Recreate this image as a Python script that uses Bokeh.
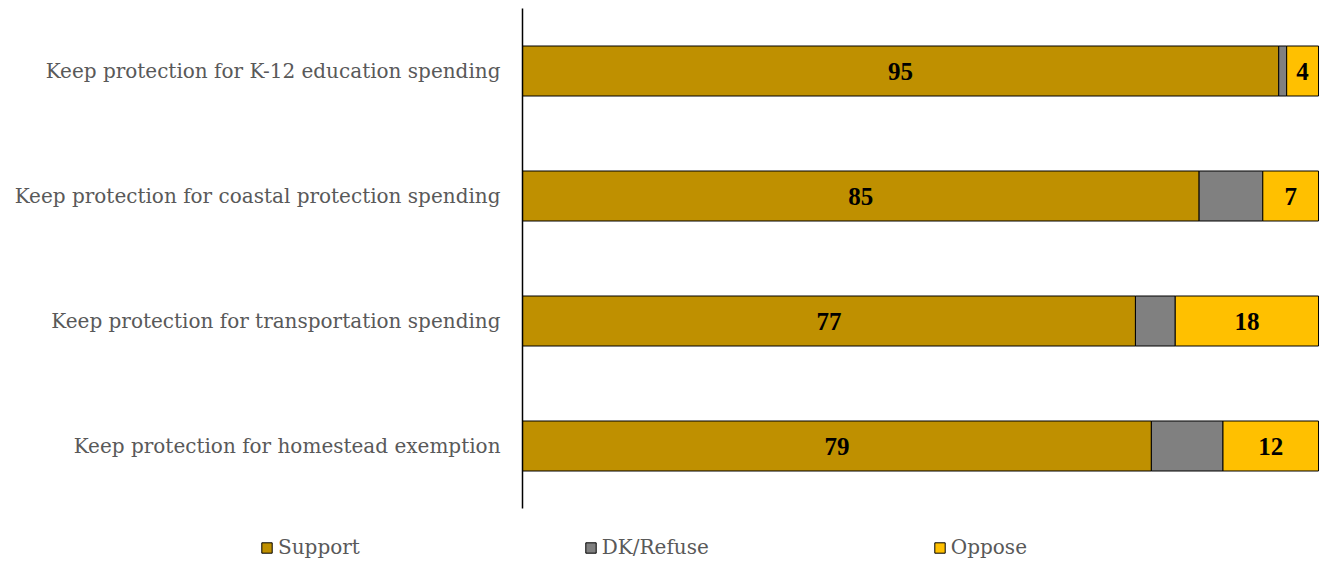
from bokeh.plotting import figure
from bokeh.models import (ColumnDataSource, Range1d, LabelSet, Legend,
                          LegendItem, FixedTicker)
from bokeh.embed import file_html
from bokeh.resources import INLINE

# ---- data (bottom to top) ----
categories = [
    "Keep protection for homestead exemption",
    "Keep protection for transportation spending",
    "Keep protection for coastal protection spending",
    "Keep protection for K-12 education spending",
]
support = [79, 77, 85, 95]
dk_refuse = [9, 5, 8, 1]
oppose = [12, 18, 7, 4]

series = ["Support", "DK/Refuse", "Oppose"]
colors = ["#BF9000", "#808080", "#FFC000"]

FONT = "DejaVu Serif"

# category slots on a numeric axis (one unit per category)
ypos = [i + 0.5 for i in range(len(categories))]

src = ColumnDataSource(dict(
    y=ypos,
    Support=support,
    **{"DK/Refuse": dk_refuse},
    Oppose=oppose,
    sup_mid=[s / 2 for s in support],
    opp_mid=[s + d + o / 2 for s, d, o in zip(support, dk_refuse, oppose)],
    sup_txt=[str(v) for v in support],
    opp_txt=[str(v) for v in oppose],
))

# frame spans the whole canvas so that the legend can sit below the bars
p = figure(width=1322, height=563,
           x_range=Range1d(-65.58, 100.5), y_range=Range1d(-0.440, 4.064),
           output_backend="svg", toolbar_location=None,
           min_border_left=0, min_border_right=0,
           min_border_top=0, min_border_bottom=0)

renderers = p.hbar_stack(series, y="y", height=0.4, color=colors,
                         line_color="black", line_width=1, source=src)

for xcol, tcol in (("sup_mid", "sup_txt"), ("opp_mid", "opp_txt")):
    p.add_layout(LabelSet(x=xcol, y="y", text=tcol, source=src,
                          text_align="center", text_baseline="middle",
                          text_font=FONT, text_font_style="bold",
                          text_font_size="25px", text_color="black"))

p.xaxis.visible = False
p.xgrid.grid_line_color = None
p.ygrid.grid_line_color = None
p.outline_line_color = None

ya = p.yaxis[0]
ya.fixed_location = 0
ya.bounds = (0, len(categories))
ya.ticker = FixedTicker(ticks=ypos)
ya.major_label_overrides = {y: c for y, c in zip(ypos, categories)}
ya.minor_tick_line_color = None
ya.major_tick_line_color = None
ya.major_tick_out = 0
ya.major_tick_in = 0
ya.axis_line_color = "black"
ya.axis_line_width = 1.5
ya.major_label_text_font = FONT
ya.major_label_text_font_size = "20px"
ya.major_label_text_color = "#595959"
ya.major_label_standoff = 22

legend = Legend(items=[LegendItem(label=n, renderers=[r])
                       for n, r in zip(series, renderers)],
                location=(260, 4), orientation="horizontal",
                glyph_width=13, glyph_height=13, label_standoff=5,
                spacing=224, padding=0, margin=0, border_line_color=None,
                background_fill_alpha=0, label_text_font=FONT,
                label_text_font_size="20px", label_text_color="#595959")
p.add_layout(legend, "center")

open("out.html", "w").write(file_html(p, INLINE))
